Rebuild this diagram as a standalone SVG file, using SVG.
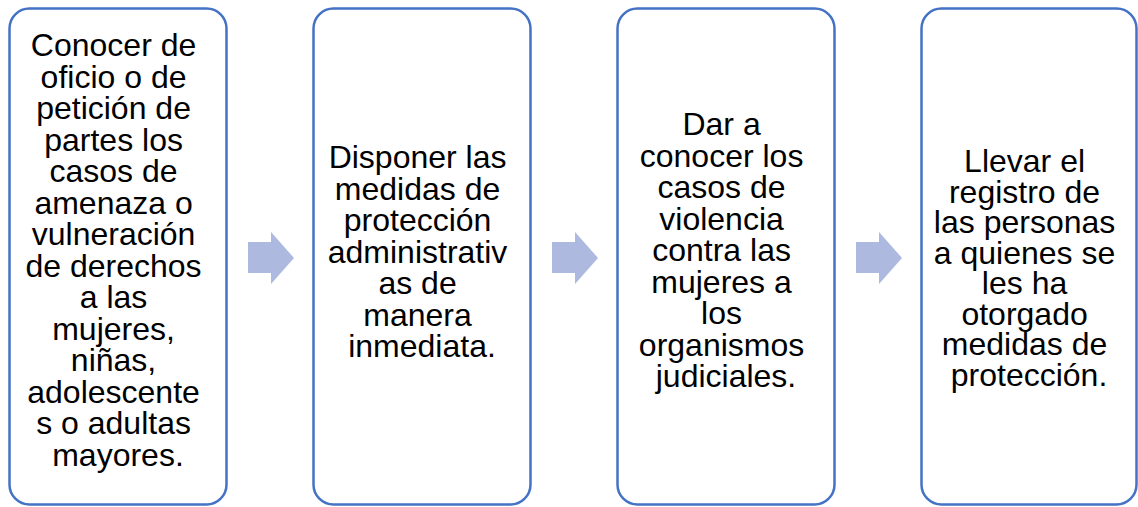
<svg xmlns="http://www.w3.org/2000/svg" width="1138" height="507" viewBox="0 0 1138 507">
<style>
.box{fill:#ffffff;stroke:#4472C4;stroke-width:2.5}
.arr{fill:#AEB9DF}
.t{font-family:"Liberation Sans",Arial,sans-serif;font-size:32px;fill:#000000;text-anchor:middle}
</style>
<defs>
<path id="arrow" d="M0,10 H23 V0 L46,26 L23,52 V41 H0 Z"/>
</defs>
<rect width="1138" height="507" fill="#ffffff"/>
<g id="connectors">
<use href="#arrow" class="arr" x="248" y="232"/>
<use href="#arrow" class="arr" x="552" y="232"/>
<use href="#arrow" class="arr" x="856" y="232"/>
</g>
<g id="node1">
<rect class="box" x="9.5" y="8.5" width="217" height="496" rx="20"/>
<text class="t">
<tspan x="118" y="56">Conocer de</tspan>
<tspan x="118" y="87.5">oficio o de</tspan>
<tspan x="118" y="119">petición de</tspan>
<tspan x="118" y="150.5">partes los</tspan>
<tspan x="118" y="182">casos de</tspan>
<tspan x="118" y="213.5">amenaza o</tspan>
<tspan x="118" y="245">vulneración</tspan>
<tspan x="118" y="276.5">de derechos</tspan>
<tspan x="118" y="308">a las</tspan>
<tspan x="118" y="339.5">mujeres,</tspan>
<tspan x="118" y="371">niñas,</tspan>
<tspan x="118" y="402.5">adolescente</tspan>
<tspan x="118" y="434">s o adultas</tspan>
<tspan x="118" y="465.5">mayores.</tspan>
</text>
</g>
<g id="node2">
<rect class="box" x="313.5" y="8.5" width="217" height="496" rx="20"/>
<text class="t">
<tspan x="422" y="168">Disponer las</tspan>
<tspan x="422" y="199.5">medidas de</tspan>
<tspan x="422" y="231">protección</tspan>
<tspan x="422" y="262.5">administrativ</tspan>
<tspan x="422" y="294">as de</tspan>
<tspan x="422" y="325.5">manera</tspan>
<tspan x="422" y="357">inmediata.</tspan>
</text>
</g>
<g id="node3">
<rect class="box" x="617.5" y="8.5" width="217" height="496" rx="20"/>
<text class="t">
<tspan x="726" y="135">Dar a</tspan>
<tspan x="726" y="166.5">conocer los</tspan>
<tspan x="726" y="198">casos de</tspan>
<tspan x="726" y="229.5">violencia</tspan>
<tspan x="726" y="261">contra las</tspan>
<tspan x="726" y="292.5">mujeres a</tspan>
<tspan x="726" y="324">los</tspan>
<tspan x="726" y="355.5">organismos</tspan>
<tspan x="726" y="387">judiciales.</tspan>
</text>
</g>
<g id="node4">
<rect class="box" x="921.5" y="8.5" width="215" height="496" rx="20"/>
<text class="t">
<tspan x="1029" y="172">Llevar el</tspan>
<tspan x="1029" y="202.5">registro de</tspan>
<tspan x="1029" y="233">las personas</tspan>
<tspan x="1029" y="263.5">a quienes se</tspan>
<tspan x="1029" y="294">les ha</tspan>
<tspan x="1029" y="324.5">otorgado</tspan>
<tspan x="1029" y="355">medidas de</tspan>
<tspan x="1029" y="385.5">protección.</tspan>
</text>
</g>
</svg>
